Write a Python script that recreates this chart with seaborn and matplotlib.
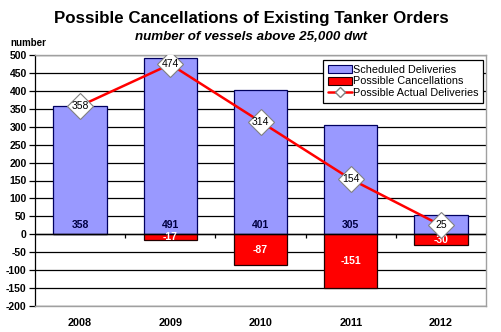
import matplotlib
matplotlib.use("Agg")
import matplotlib.pyplot as plt
from matplotlib.patches import Patch
from matplotlib.lines import Line2D
import seaborn as sns
import pandas as pd

years = ["2008", "2009", "2010", "2011", "2012"]
scheduled = [358, 491, 401, 305, 55]
cancellations = [0, -17, -87, -151, -30]
actual = [358, 474, 314, 154, 25]
y_ticks = list(range(-200, 501, 50))

sns.set_theme(style="white")
plt.rcParams["font.family"] = ["Liberation Sans", "DejaVu Sans"]
plt.rcParams.update({"text.color": "black", "axes.labelcolor": "black",
                     "xtick.color": "black", "ytick.color": "black"})

fig = plt.figure(figsize=(5.02, 3.32), dpi=100)
ax = fig.add_axes([35 / 502, 1 - 306 / 332, 451 / 502, 251 / 332])

df = pd.DataFrame({"year": years, "scheduled": scheduled,
                   "cancel": cancellations, "actual": actual})

# horizontal grid every 50
for v in y_ticks:
    ax.axhline(v, color="black", lw=0.9, zorder=0)

sns.barplot(data=df, x="year", y="scheduled", order=years, color="#9999FF",
            saturation=1, width=0.59, edgecolor="#000060", linewidth=0.9,
            ax=ax, zorder=2)
sns.barplot(data=df, x="year", y="cancel", order=years, color="#FF0000",
            saturation=1, width=0.59, edgecolor="#200000", linewidth=0.9,
            ax=ax, zorder=2)

ax.axhline(0, color="black", lw=1.0, zorder=3)
# category separators on the zero line
ax.vlines([i + 0.5 for i in range(len(years) - 1)], -10, 0, color="black",
          lw=0.9, zorder=3)

# labels for scheduled deliveries
for i, v in enumerate(scheduled):
    ax.text(i, 25, str(v), ha="center", va="center", fontsize=7.5,
            fontweight="bold", color="#000040", zorder=4)

# labels for cancellations
for i, v in enumerate(cancellations):
    if v != 0:
        ax.text(i, v / 2, str(v), ha="center", va="center", fontsize=7.5,
                fontweight="bold", color="white", zorder=4)

# possible actual deliveries line
x_pos = list(range(len(years)))
ax.plot(x_pos, actual, color="#FF0000", lw=1.8, zorder=5)
ax.plot(x_pos, actual, ls="none", marker="D", markersize=13.5,
        markerfacecolor="white", markeredgecolor="#808080",
        markeredgewidth=0.8, zorder=6)
for i, v in enumerate(actual):
    ax.text(i, v, str(v), ha="center", va="center", fontsize=7.5,
            color="black", zorder=7)

ax.set_xlim(-0.5, len(years) - 0.5)
ax.set_ylim(-200, 500)
ax.set_yticks(y_ticks)
ax.set_yticklabels([str(v) for v in y_ticks], fontsize=7.5, fontweight="bold")
ax.set_xticks(x_pos)
ax.set_xticklabels(years, fontsize=7.8, fontweight="bold")
ax.tick_params(axis="y", length=4, width=0.9, color="black", pad=2,
               direction="out", left=True)
ax.tick_params(axis="x", length=0, pad=9)
ax.set_xlabel("")
ax.set_ylabel("")

for s in ["top", "right", "bottom"]:
    ax.spines[s].set_color("#A0A0A0")
    ax.spines[s].set_linewidth(1.0)
ax.spines["left"].set_color("black")
ax.spines["left"].set_linewidth(0.9)

handles = [
    Patch(facecolor="#9999FF", edgecolor="#000060", lw=0.8),
    Patch(facecolor="#FF0000", edgecolor="#200000", lw=0.8),
    Line2D([0], [0], color="#FF0000", lw=1.8, marker="D", markersize=5,
           markerfacecolor="white", markeredgecolor="#808080"),
]
labels = ["Scheduled Deliveries", "Possible Cancellations",
          "Possible Actual Deliveries"]
leg = ax.legend(handles, labels, loc="upper right",
                bbox_to_anchor=(483 / 502, 1 - 60 / 332),
                bbox_transform=fig.transFigure, fontsize=7.8, frameon=True,
                fancybox=False, edgecolor="black", framealpha=1,
                borderpad=0.45, labelspacing=0.15, handlelength=2.2,
                handletextpad=0.1, borderaxespad=0)
leg.get_frame().set_linewidth(0.9)
leg.set_zorder(10)

fig.text(0.5, 1 - 18 / 332, "Possible Cancellations of Existing Tanker Orders",
         ha="center", va="center", fontsize=12.2, fontweight="bold")
fig.text(0.5, 1 - 37 / 332, "number of vessels above 25,000 dwt",
         ha="center", va="center", fontsize=9.6, fontweight="bold",
         style="italic")
fig.text(10 / 502, 1 - 43 / 332, "number", ha="left", va="center",
         fontsize=7, fontweight="bold")

fig.savefig("out.png", dpi=100, facecolor="white")
